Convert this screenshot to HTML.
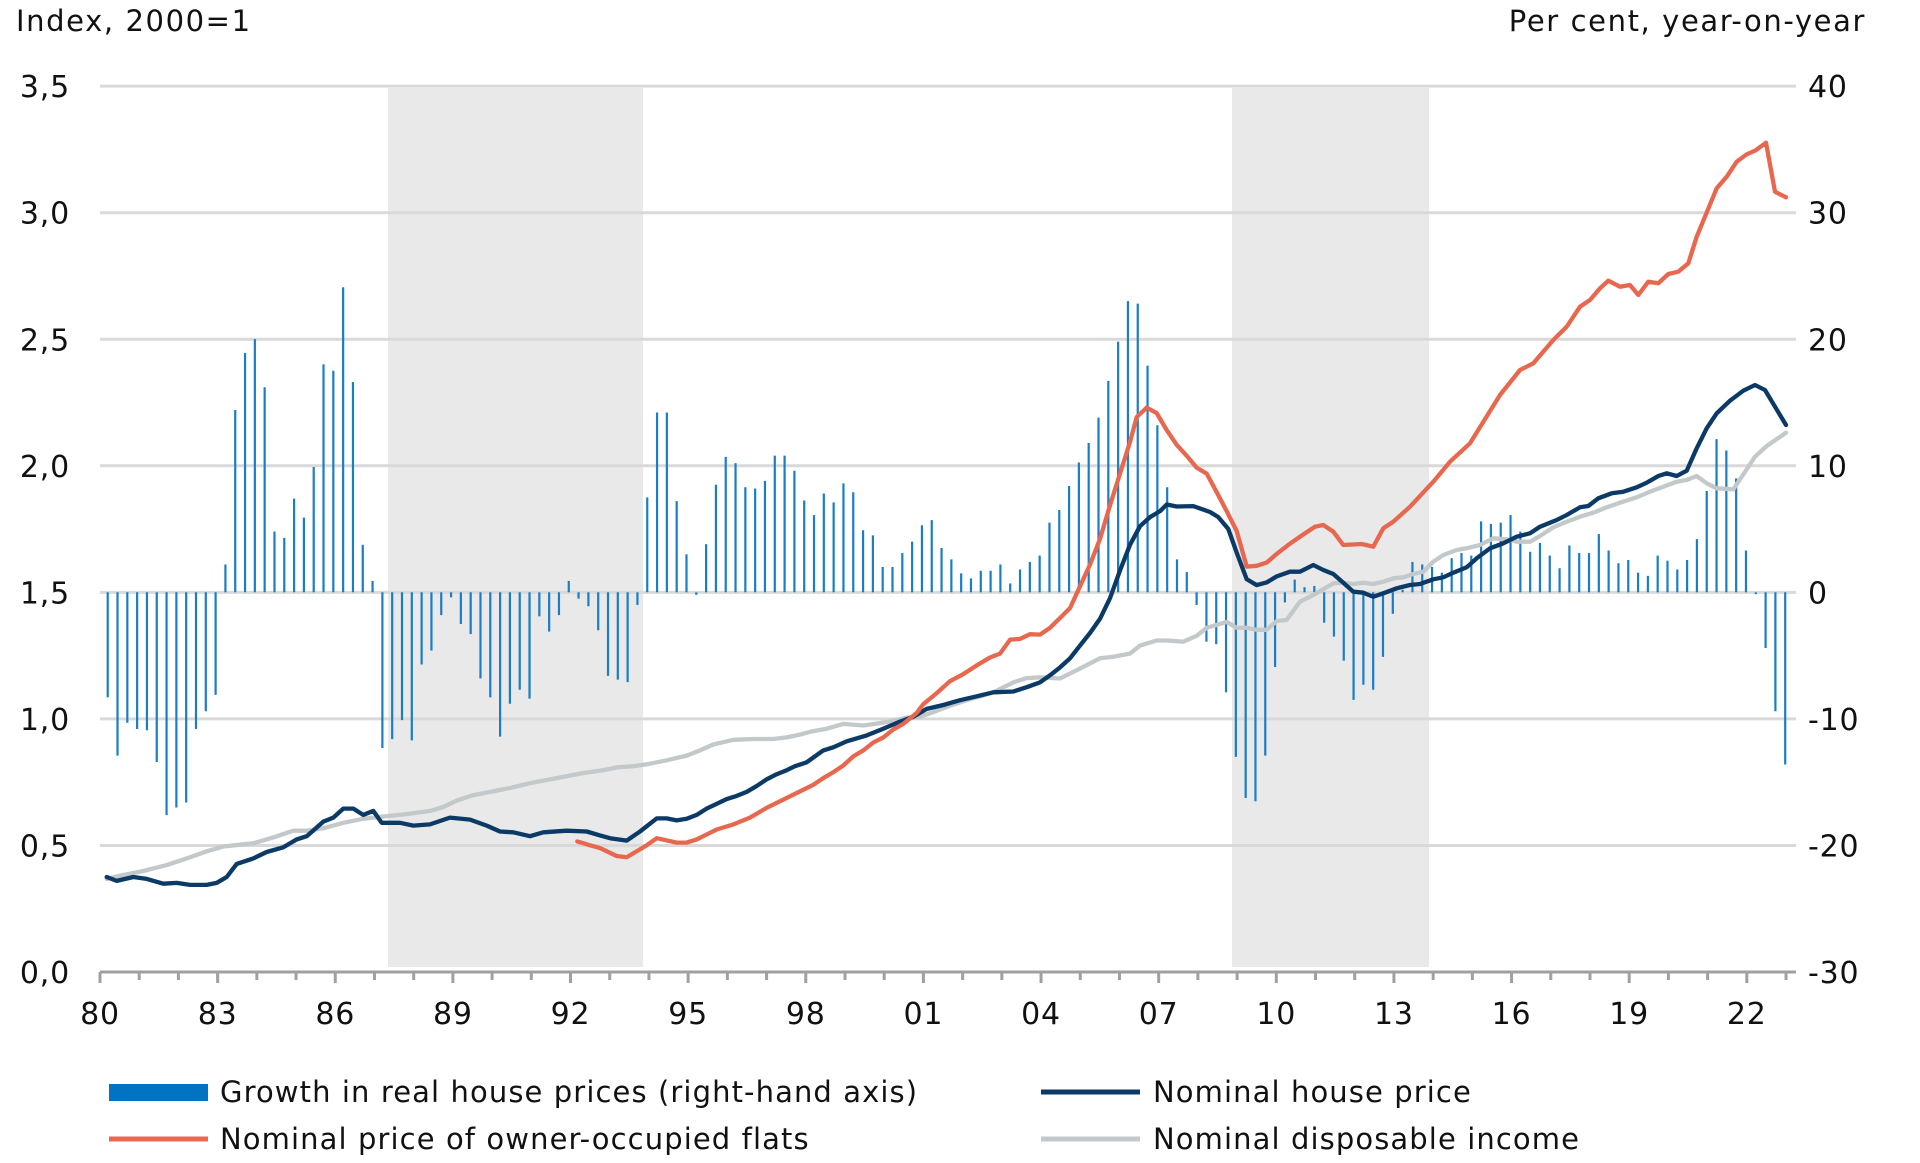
<!DOCTYPE html>
<html><head><meta charset="utf-8"><style>
html,body{margin:0;padding:0;background:#fff;}
svg{display:block;font-family:"DejaVu Sans","Liberation Sans",sans-serif;}
</style></head><body>
<svg id="c" width="1920" height="1163" viewBox="0 0 1920 1163" xmlns="http://www.w3.org/2000/svg">
<rect x="0" y="0" width="1920" height="1163" fill="#fff"/>
<rect x="388" y="88" width="255" height="879" fill="#e9e9e9"/>
<rect x="1232" y="88" width="197" height="879" fill="#e9e9e9"/>
<g id="grid" stroke="#d9d9d9" stroke-width="3"></g>
<g id="bars" stroke="#1a7dc6" stroke-width="2.2"></g>
<g id="lines" fill="none" stroke-width="4.3" stroke-linejoin="round" stroke-linecap="round"></g>
<g id="axis"></g>
<g font-size="29" fill="#111" letter-spacing="1.6">
<text x="16" y="31">Index, 2000=1</text>
<text x="1866" y="31" text-anchor="end">Per cent, year-on-year</text>
</g>
<g id="labels" font-size="30" fill="#111" letter-spacing="0.8"></g>
<rect x="109" y="1084" width="99" height="17" fill="#0073c2"/>
<line x1="109" y1="1139" x2="208" y2="1139" stroke="#e8684f" stroke-width="5"/>
<line x1="1041" y1="1092" x2="1140" y2="1092" stroke="#0b3a66" stroke-width="5"/>
<line x1="1041" y1="1139" x2="1140" y2="1139" stroke="#c3c9cb" stroke-width="5"/>
<g font-size="29" fill="#111" letter-spacing="1.1">
<text x="220" y="1102">Growth in real house prices (right-hand axis)</text>
<text x="220" y="1149">Nominal price of owner-occupied flats</text>
<text x="1153" y="1102">Nominal house price</text>
<text x="1153" y="1149">Nominal disposable income</text>
</g>
</svg>
<script>
var NS="http://www.w3.org/2000/svg";
function el(p,t,a,txt){var e=document.createElementNS(NS,t);for(var k in a)e.setAttribute(k,a[k]);if(txt!=null)e.textContent=txt;p.appendChild(e);return e;}
var Y0=972,U=253.1;
function yv(v){return Y0-v*U;}
var grid=document.getElementById('grid'),lab=document.getElementById('labels'),ax=document.getElementById('axis');
for(var i=1;i<=7;i++){var v=i*0.5;el(grid,'line',{x1:100,x2:1796,y1:yv(v),y2:yv(v)});}
for(var i=0;i<=7;i++){var v=i*0.5;var y=yv(v);
 el(lab,'text',{x:70,y:y+11,'text-anchor':'end'},v.toFixed(1).replace('.',','));
 el(lab,'text',{x:1808,y:y+11},String(-30+i*10));}
el(ax,'line',{x1:100,x2:1796,y1:972,y2:972,stroke:'#a0a0a0','stroke-width':3});
for(var k=0;k<=43;k++){var x=100+k*39.21;var maj=k%3==0;
 el(ax,'line',{x1:x,x2:x,y1:972,y2:maj?983:980,stroke:'#a0a0a0','stroke-width':3});
 if(maj){var yr=(80+k)%100;el(lab,'text',{x:x,y:1024,'text-anchor':'middle'},(yr<10?'0':'')+yr);}}
var bv=[-8.3,-12.9,-10.3,-10.8,-10.9,-13.4,-17.6,-17.0,-16.6,-10.8,-9.4,-8.1,2.2,14.4,18.9,20.0,16.2,4.8,4.3,7.4,5.9,9.9,18.0,17.5,24.1,16.6,3.75,0.9,-12.3,-11.6,-10.1,-11.7,-5.7,-4.6,-1.8,-0.4,-2.5,-3.3,-6.8,-8.3,-11.4,-8.8,-7.7,-8.4,-1.9,-3.1,-1.8,0.9,-0.5,-1.1,-3.0,-6.6,-6.9,-7.1,-1.0,7.5,14.2,14.2,7.2,3.0,-0.2,3.8,8.5,10.7,10.2,8.3,8.2,8.8,10.8,10.8,9.6,7.25,6.1,7.8,7.1,8.6,7.9,4.9,4.5,2.0,2.0,3.1,4.0,5.3,5.7,3.5,2.6,1.5,1.1,1.7,1.7,2.2,0.7,1.8,2.4,2.9,5.5,6.5,8.4,10.25,11.8,13.8,16.7,19.8,23.0,22.8,17.9,13.2,8.3,2.6,1.6,-1.0,-3.9,-4.1,-7.9,-13.0,-16.25,-16.5,-12.9,-5.9,-0.8,1.0,0.4,0.5,-2.4,-3.5,-5.4,-8.5,-7.3,-7.7,-5.1,-1.7,0.2,2.4,2.2,2.0,1.55,2.7,3.1,2.9,5.6,5.4,5.5,6.1,4.8,3.2,3.9,2.9,1.9,3.7,3.1,3.1,4.6,3.3,2.3,2.55,1.55,1.3,2.9,2.5,1.8,2.55,4.2,8.0,12.1,11.2,9.0,3.3,-0.15,-4.4,-9.4,-13.6];
var bars=document.getElementById('bars');var z=592.3;
for(var i=0;i<bv.length;i++){var x=107.7+i*9.81;el(bars,'line',{x1:x,x2:x,y1:z,y2:z-bv[i]*12.66});}
function conv(arr,ox,oy,sx,sy){var o=[];for(var i=0;i<arr.length;i+=2)o.push([ox+arr[i]/sx,oy+arr[i+1]/sy]);return o;}
var A=2.529;
var navy=[].concat(
conv([50,1535,80,1545,130,1535,170,1540,220,1552,260,1550,300,1555,350,1555,380,1550,410,1535,440,1502,490,1488,530,1472,580,1460,620,1440,650,1432,680,1410,700,1395,730,1385,760,1362,790,1362,820,1378,850,1368,875,1398,930,1398,970,1405,1020,1402,1080,1385,1140,1390,1190,1405,1230,1420,1270,1422,1320,1432,1360,1422,1430,1418,1490,1420,1530,1430],90,270,3,A),
conv([30,1437,80,1443,120,1420,170,1387,200,1387,230,1392,260,1388,290,1378,320,1362,380,1338,410,1330,440,1320,470,1305,500,1288,530,1275,560,1265,585,1255,620,1245,670,1215,700,1207,740,1192,800,1177,850,1160,900,1142,940,1130,980,1110,1030,1100,1080,1088,1130,1078,1180,1068],600,270,3,A),
conv([40,1066,80,1055,120,1043,150,1025,180,1005,210,982,240,950,270,918,300,882,330,830,360,760,390,695,420,648,450,625,480,610,500,593,530,598,580,597,630,612,655,625,685,655,710,715,740,782,770,797,800,790,830,775,870,763],1000,270,3,A),
conv([0,1355,40,1335,70,1350,100,1362,130,1388,160,1415,190,1418,220,1430,250,1420,290,1405,330,1395,360,1392,400,1378,430,1372,460,1358,500,1342,530,1315,570,1285,610,1270,650,1250,690,1240,720,1220,770,1200,800,1185,840,1162,865,1158,895,1135,935,1120,970,1115,1010,1102,1040,1088,1075,1068,1100,1060,1130,1068,1160,1052,1190,985,1220,925,1250,880,1290,842,1330,812,1365,795,1395,810,1425,860,1458,915],1300,120,3,3));
var orange=[].concat(
conv([1462,1445,1500,1455],90,270,3,A),
conv([0,1462,50,1482,80,1485,110,1470,140,1455,170,1437,230,1448,260,1448,290,1440,350,1415,400,1402,450,1385,500,1360,560,1335,640,1302,670,1285,700,1270,730,1253,760,1230,790,1215,820,1195,850,1182,880,1162,910,1148,950,1120,970,1098,1010,1070,1050,1040,1090,1022,1130,1000,1170,980],600,270,3,A),
conv([0,970,30,935,60,933,90,921,120,922,150,905,180,880,210,855,240,800,270,745,300,680,330,595,360,515,390,435,410,372,440,348,470,362,500,405,530,442,560,470,590,500,620,515,650,562,680,610,710,660,740,750,770,748,800,740,830,718,870,692],1000,270,3,A),
conv([0,1250,45,1220,70,1215,100,1235,130,1275,185,1272,220,1280,250,1225,280,1205,330,1160,400,1085,450,1025,510,970,600,825,660,750,700,730,760,660,800,620,840,560,870,540,900,505,925,482,960,500,990,495,1015,525,1045,485,1075,490,1105,462,1135,455,1165,430,1190,350,1250,205,1280,170,1310,125,1340,103,1365,92,1398,68,1425,215,1458,232],1300,120,3,3));
var gray=[].concat(
conv([50,1540,100,1530,160,1520,230,1505,290,1488,350,1470,400,1458,490,1450,550,1435,610,1418,650,1418,700,1412,760,1398,820,1388,880,1382,950,1376,1020,1368,1060,1358,1100,1342,1150,1328,1200,1320,1260,1310,1320,1298,1400,1285,1480,1272,1530,1266],90,270,3,A),
conv([30,1262,50,1258,100,1255,140,1250,200,1240,260,1228,300,1215,340,1200,400,1188,460,1186,520,1186,560,1182,600,1175,640,1166,680,1160,730,1148,790,1152,840,1146,880,1140,920,1132,960,1130,1000,1118,1050,1102,1100,1088,1150,1076,1180,1068],600,270,3,A),
conv([40,1043,80,1032,120,1030,180,1033,240,1008,300,982,340,978,390,970,420,950,470,937,500,937,550,940,590,925,620,905,680,890,710,905,740,905,770,910,800,910,830,888,860,885],1000,270,3,A),
conv([0,1445,40,1425,70,1408,100,1390,130,1388,160,1392,190,1388,220,1392,250,1385,280,1375,310,1372,340,1362,370,1355,400,1325,430,1305,470,1290,500,1285,540,1275,580,1255,620,1258,650,1265,690,1265,720,1248,760,1222,800,1205,840,1190,880,1178,920,1162,960,1148,1010,1132,1050,1115,1090,1100,1130,1085,1160,1080,1190,1068,1220,1090,1250,1105,1300,1108,1340,1048,1365,1010,1400,978,1458,938],1300,120,3,3));
var L=document.getElementById('lines');
function draw(p,c){el(L,'polyline',{points:p.map(function(q){return q[0].toFixed(1)+','+q[1].toFixed(1);}).join(' '),stroke:c});}
draw(gray,'#c3c9cb');draw(navy,'#0b3a66');draw(orange,'#e8684f');
</script>
</body></html>
